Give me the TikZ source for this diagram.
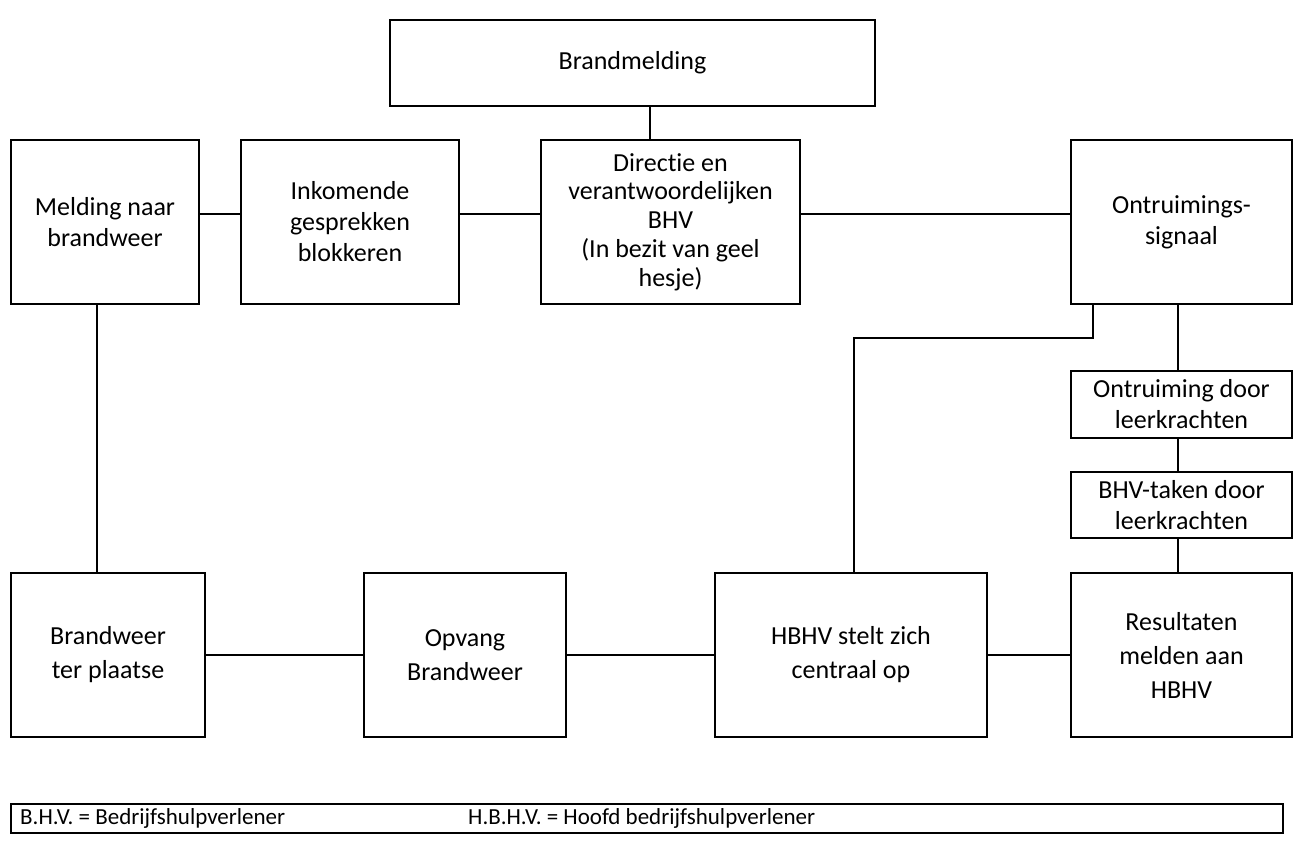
\documentclass[tikz,border=0pt]{standalone}
\usepackage{fontspec}
\setmainfont{Carlito}[Ligatures=NoCommon]
\begin{document}
\begin{tikzpicture}[x=1pt,y=-1pt,
  box/.style={draw=black, line width=2pt, rectangle, align=center, inner sep=2pt,
    font=\fontsize{26}{31}\selectfont},
  tight/.style={font=\fontsize{26}{28.8}\selectfont},
  loose/.style={font=\fontsize{26}{34}\selectfont},
  conn/.style={draw=black, line width=2pt},
  lbl/.style={inner sep=0pt, anchor=west, font=\fontsize{23}{27}\selectfont}]
\useasboundingbox (0,0) rectangle (1294,843);
\fill[white] (0,0) rectangle (1294,843);

\node[box, minimum width=485pt, minimum height=86pt] (brand) at (632.5,63) {Brandmelding};
\node[box, minimum width=188pt, minimum height=164pt] (meld) at (105,222) {Melding naar\\brandweer};
\node[box, minimum width=218pt, minimum height=164pt] (inko) at (350,222) {Inkomende\\gesprekken\\blokkeren};
\node[box, tight, minimum width=259pt, minimum height=164pt] (dir) at (670.5,222) {Directie en\\verantwoordelijken\\BHV\\(In bezit van geel\\hesje)};
\node[box, minimum width=221pt, minimum height=164pt] (ontr) at (1181.5,222) {Ontruimings-\\signaal};
\node[box, minimum width=221pt, minimum height=67pt] (door) at (1181.5,404.5) {Ontruiming door\\leerkrachten};
\node[box, minimum width=221pt, minimum height=66pt] (bhvt) at (1181.5,505) {BHV-taken door\\leerkrachten};
\node[box, loose, minimum width=194pt, minimum height=164pt] (bw) at (108,655) {Brandweer\\ter plaatse};
\node[box, loose, minimum width=202pt, minimum height=164pt] (opv) at (465,655) {Opvang\\Brandweer};
\node[box, loose, minimum width=272pt, minimum height=164pt] (hbhv) at (851,655) {HBHV stelt zich\\centraal op};
\node[box, loose, minimum width=221pt, minimum height=164pt] (res) at (1181.5,655) {Resultaten\\melden aan\\HBHV};

\node[draw=black, line width=2pt, rectangle, minimum width=1272pt, minimum height=29pt, inner sep=0pt] (leg) at (647,818.5) {};
\node[lbl] (leg1) at (20,818.5) {B.H.V. = Bedrijfshulpverlener};
\node[lbl] (leg2) at (468,818.5) {H.B.H.V. = Hoofd bedrijfshulpverlener};

\coordinate (xa) at (650,0);
\coordinate (xb) at (97,0);
\coordinate (xc) at (1093,0);
\coordinate (xd) at (854,0);
\coordinate (xe) at (1178,0);
\coordinate (ya) at (0,214);
\coordinate (yb) at (0,338);
\coordinate (yc) at (0,655);

\draw[conn] (xa |- brand.south) -- (xa |- dir.north);
\draw[conn] (meld.east |- ya) -- (inko.west |- ya);
\draw[conn] (inko.east |- ya) -- (dir.west |- ya);
\draw[conn] (dir.east |- ya) -- (ontr.west |- ya);
\draw[conn] (xb |- meld.south) -- (xb |- bw.north);
\draw[conn] (bw.east |- yc) -- (opv.west |- yc);
\draw[conn] (opv.east |- yc) -- (hbhv.west |- yc);
\draw[conn] (hbhv.east |- yc) -- (res.west |- yc);
\draw[conn] (xc |- ontr.south) -- (xc |- yb) -- (xd |- yb) -- (xd |- hbhv.north);
\draw[conn] (xe |- ontr.south) -- (xe |- door.north);
\draw[conn] (xe |- door.south) -- (xe |- bhvt.north);
\draw[conn] (xe |- bhvt.south) -- (xe |- res.north);
\end{tikzpicture}
\end{document}
